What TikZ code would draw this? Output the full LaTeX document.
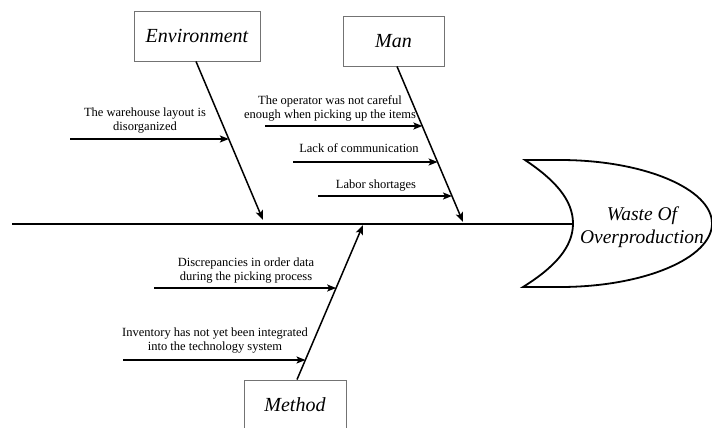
\documentclass[tikz,border=0pt]{standalone}
\usepackage{fontspec}
\setmainfont{Liberation Serif}
\usetikzlibrary{arrows.meta,calc}
\begin{document}
\begin{tikzpicture}[x=1pt,y=-1pt,
  catbox/.style={draw=black!55, line width=0.9pt, fill=white, minimum height=50pt, inner sep=0pt,
    font=\fontsize{20}{24}\selectfont\itshape},
  causetext/.style={font=\fontsize{12.5}{14}\selectfont, align=center, inner sep=0pt, anchor=south,
    text=black, execute at end node=\strut},
  bone/.style={line width=1.5pt, -{Stealth[length=9.5pt,width=7.5pt,inset=2pt]}},
  twig/.style={line width=1.4pt, -{Stealth[length=9pt,width=7pt,inset=2pt]}},
  spine/.style={line width=2pt},
  headline/.style={line width=1.8pt, fill=white}
  ]
\useasboundingbox (0,0) rectangle (712,428);
\clip (0,0) rectangle (712,428);

% category boxes
\node[catbox, minimum width=126pt] (envbox) at (197,36) {Environment};
\node[catbox, minimum width=101pt] (manbox) at (393.5,41) {Man};
\node[catbox, minimum width=102pt] (methbox) at (295,405) {Method};

% spine and head
\coordinate (tail) at (12,223.5);
\coordinate (headin) at (573,223.5);
\draw[spine] (tail) -- (headin);
\draw[headline] (525,160) -- (560,160)
  .. controls (644,160) and (712,189) .. (712,223.5)
  .. controls (712,258) and (644,287) .. (560,287) -- (523,287)
  .. controls (555,267) and (573,247) .. (headin)
  .. controls (573,200) and (555,180) .. (525,160) -- cycle;
\node[font=\fontsize{19.5}{23}\selectfont\itshape, align=center, text=black, inner sep=0pt] (effect) at (642,227) {Waste Of\\Overproduction};

% bones
\coordinate (envA) at ([xshift=-1pt]envbox.south);
\coordinate (envB) at (263,220);
\coordinate (manA) at ([xshift=3.5pt]manbox.south);
\coordinate (manB) at (463,222);
\coordinate (methA) at ([xshift=2pt]methbox.north);
\coordinate (methB) at (363,225);
\draw[bone] (envA) -- (envB);
\draw[bone] (manA) -- (manB);
\draw[bone] (methA) -- (methB);

% causes
\coordinate (w0) at (70,139);
\coordinate (o0) at (265,126);
\coordinate (l0) at (293,162);
\coordinate (s0) at (318,196);
\coordinate (d0) at (154,288);
\coordinate (i0) at (123,360);
\coordinate (w1) at ($(envA)!0.4906!(envB)$);
\coordinate (o1) at ($(manA)!0.3846!(manB)$);
\coordinate (l1) at ($(manA)!0.6154!(manB)$);
\coordinate (s1) at ($(manA)!0.8333!(manB)$);
\coordinate (d1) at ($(methA)!0.5935!(methB)$);
\coordinate (i1) at ($(methA)!0.129!(methB)$);
\draw[twig] (w0) -- (w1 |- w0);
\draw[twig] (o0) -- (o1 |- o0);
\draw[twig] (l0) -- (l1 |- l0);
\draw[twig] (s0) -- (s1 |- s0);
\draw[twig] (d0) -- (d1 |- d0);
\draw[twig] (i0) -- (i1 |- i0);

\node[causetext] (wt) at (145,135) {The warehouse layout is\\disorganized};
\node[causetext] (ot) at (330,123) {The operator was not careful\\enough when picking up the items};
\node[causetext] (lt) at (359,157) {Lack of communication};
\node[causetext] (st) at (376,193) {Labor shortages};
\node[causetext] (dt) at (246,285) {Discrepancies in order data\\during the picking process};
\node[causetext] (it) at (215,355) {Inventory has not yet been integrated\\into the technology system};
\end{tikzpicture}
\end{document}
